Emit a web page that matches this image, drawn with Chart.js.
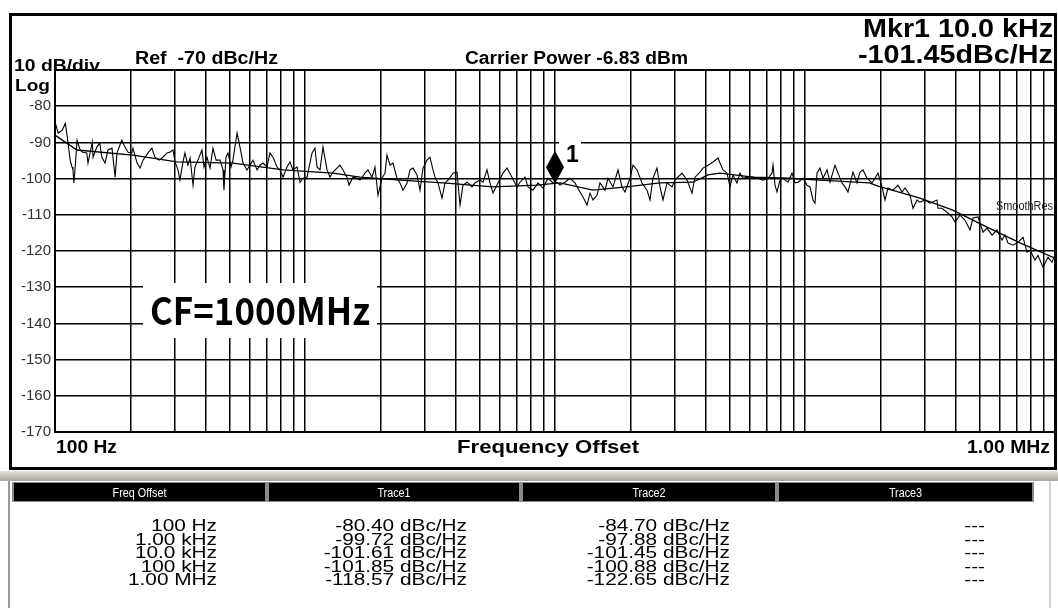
<!DOCTYPE html>
<html>
<head>
<meta charset="utf-8">
<script src="https://cdn.jsdelivr.net/npm/chart.js@4.4.1/dist/chart.umd.min.js"></script>
<style>
html,body{margin:0;padding:0;background:#fff;}
canvas{display:block;}
</style>
</head>
<body>
<canvas id="c" width="1058" height="608"></canvas>
<script>
// ---------------- DATA ----------------
const trace1Freq = [
  100,103,107,110,112,115,117,118,119,121,
  122.5,126,129,134,135.5,141,142,147,151,154,
  158.5,163,169,174,177,185,190.5,196,203,205,
  213,219,225,235.5,244,251,261,270,280.5,288,
  296.5,302,310.5,316,325,331,340,347,356.5,363,
  373,387,394.5,405.5,417,428.5,441,457,470,474,
  483,492,506,515,535,549.5,565,586,603,619,
  643,661,679,705,724,745,773,794,817,847,
  871,895,929,955,982,1019,1067,1096,1117,1148,
  1180,1225,1259,1294,1343,1380,1419,1472,1500,1556,
  1614,1660,1738,1786,1854,1905,1959,2032,2089,2128,
  2188,2249,2333,2399,2466,2559,2630,2704,2805,2884,
  2965,3076,3162,3251,3311,3404,3532,3631,3733,3908,
  4055,4169,4285,4446,4656,4786,5012,5152,5346,5495,
  5649,5916,6194,6427,6730,7047,7244,7586,7798,8166,
  8551,8954,9376,9817,10186,10471,10965,11482,12023,12589,
  12942,13428,13804,14191,14723,15136,15849,16293,17061,17865,
  18535,19055,19953,20512,21281,22284,23335,23988,24660,25586,
  26303,27040,28054,29376,30200,32211,33729,35318,36308,38019,
  39084,40926,42855,44875,45709,46989,48753,50119,51523,53456,
  54954,56494,59156,61944,64863,67920,71121,73790,74473,75858,
  77268,79433,81658,85507,88716,91201,93756,98175,101859,104713,
  107647,109648,111686,114815,118032,122462,125893,131826,135519,140605,
  144544,148594,155597,161436,165959,170608,177011,185353,190546,195884,
  203236,208930,214783,224905,235505,244343,251189,263027,270396,280543,
  288403,301995,316228,337287,340408,353183,369828,387258,398107,416869,
  436516,457088,469894,492040,515229,534564,559758,586138,613762,630957,
  648634,679204,711214,744732,772681,794328,831764,855067,895365,937562,
  972747,1000000
];
const trace1Level = [
  -84.4,-87.4,-86.6,-84.7,-88.5,-94.9,-96.8,-97.6,-101.2,-94.9,
  -89.4,-92.1,-92.7,-92.9,-95.7,-89.9,-94.1,-91.3,-90.2,-94.1,
  -95.7,-92.1,-91.6,-99.6,-92.9,-89.4,-91.3,-92.7,-92.9,-91.6,
  -95.7,-97.1,-94.9,-92.9,-91.6,-94.1,-94.9,-94.1,-92.9,-92.7,
  -92.1,-95.4,-97.6,-100.4,-95.4,-92.9,-96.3,-94.3,-101.8,-96.8,
  -94.9,-92.1,-96.8,-94.1,-97.1,-91.6,-94.9,-94.9,-97.6,-103.2,
  -94.1,-92.9,-96.8,-94.9,-87.4,-91.3,-95.7,-97.6,-96.3,-94.9,
  -97.6,-96.3,-95.7,-96.8,-92.9,-94.1,-96.8,-97.6,-99.6,-96.8,
  -95.4,-97.6,-96.8,-101.0,-99.9,-99.6,-92.9,-91.6,-96.8,-97.6,
  -91.3,-97.6,-99.6,-98.2,-97.1,-96.3,-97.6,-99.6,-101.8,-99.6,
  -99.9,-100.4,-98.5,-97.6,-99.6,-96.8,-104.6,-99.9,-98.5,-93.5,
  -96.3,-95.7,-99.9,-101.2,-103.2,-101.2,-97.6,-97.1,-99.0,-103.2,
  -97.1,-94.9,-94.1,-97.6,-99.6,-101.2,-105.4,-101.2,-100.4,-98.5,
  -98.2,-107.3,-101.8,-101.0,-102.3,-101.2,-100.4,-101.0,-97.6,-101.2,
  -104.0,-101.2,-98.5,-97.1,-99.6,-102.3,-101.0,-99.6,-102.3,-103.2,
  -101.2,-102.6,-99.9,-101.2,-101.0,-101.8,-101.0,-99.9,-101.2,-103.7,
  -105.1,-107.3,-104.0,-105.9,-104.6,-101.2,-103.2,-99.9,-102.3,-97.6,
  -102.3,-103.7,-99.9,-96.3,-97.6,-101.2,-103.2,-105.9,-99.9,-97.1,
  -102.3,-105.9,-101.2,-102.3,-100.4,-98.5,-100.4,-104.0,-99.6,-98.2,
  -97.1,-96.3,-95.4,-94.3,-95.7,-97.6,-98.5,-102.3,-99.0,-101.2,
  -98.5,-99.9,-99.6,-99.6,-99.9,-100.4,-99.9,-98.5,-96.3,-101.8,
  -103.7,-100.4,-99.9,-101.0,-98.5,-101.2,-101.0,-99.9,-101.8,-102.3,
  -105.9,-106.8,-98.5,-97.1,-99.9,-97.6,-101.0,-96.3,-98.5,-101.2,
  -102.3,-103.7,-98.2,-101.2,-98.2,-97.6,-99.9,-101.2,-99.9,-98.5,
  -102.3,-105.9,-102.6,-103.2,-101.8,-103.7,-102.6,-104.6,-108.2,-105.9,
  -106.5,-105.9,-106.8,-105.9,-108.2,-108.2,-109.3,-110.6,-112.0,-110.1,
  -111.5,-114.2,-110.9,-110.6,-114.8,-113.7,-115.6,-114.2,-117.0,-115.6,
  -117.8,-118.4,-117.6,-116.2,-120.3,-119.8,-122.5,-121.2,-124.5,-121.7,
  -123.1,-121.0
];
const trace2Freq = [100,122.5,205,307,515,817,1294,1660,2399,3560,5649,8470,10471,14191,19300,26303,35600,40926,45709,61944,87000,114815,181000,195884,288403,390000,534564,728000,1000000];
const trace2Level = [-88.0,-92.1,-93.5,-95.4,-95.7,-97.6,-98.5,-99.6,-100.4,-101.2,-102.3,-101.8,-101.2,-103.2,-102.3,-101.2,-101.0,-99.0,-98.5,-99.6,-99.9,-100.4,-101.2,-102.1,-105.4,-108.7,-113.4,-117.8,-122.0];

const yGridValues = [-70,-80,-90,-100,-110,-120,-130,-140,-150,-160,-170];
const decades = [100,1000,10000,100000];
const decadeMultipliers = [1,2,3,4,5,6,7,8,9];
const xMin = 100, xMax = 1000000, yMin = -170, yMax = -70;

const markerFreq = 10000;
const markerLevel = -101.45;

const tableHeaders = ['Freq Offset','Trace1','Trace2','Trace3'];
const tableFreq = ['100 Hz','1.00 kHz','10.0 kHz','100 kHz','1.00 MHz'];
const tableTrace1 = ['-80.40 dBc/Hz','-99.72 dBc/Hz','-101.61 dBc/Hz','-101.85 dBc/Hz','-118.57 dBc/Hz'];
const tableTrace2 = ['-84.70 dBc/Hz','-97.88 dBc/Hz','-101.45 dBc/Hz','-100.88 dBc/Hz','-122.65 dBc/Hz'];
const tableTrace3 = ['---','---','---','---','---'];

// ---------------- HELPERS ----------------
const FONT = "'Liberation Sans', Arial, sans-serif";
function drawText(ctx, text, x, y, o) {
  ctx.save();
  ctx.font = `${o.weight || 'normal'} ${o.size}px ${o.family || FONT}`;
  ctx.fillStyle = o.color || '#000';
  ctx.textBaseline = 'alphabetic';
  ctx.textAlign = 'left';
  const m = ctx.measureText(text).width;
  const s = o.width ? o.width / m : (o.scale || 1);
  const w = m * s;
  const a = o.align || 'left';
  const x0 = a === 'right' ? x - w : (a === 'center' ? x - w / 2 : x);
  ctx.translate(x0, y);
  ctx.scale(s, 1);
  ctx.fillText(text, 0, 0);
  ctx.restore();
}

const gridFreqs = [];
decades.forEach(d => decadeMultipliers.forEach(m => gridFreqs.push(d * m)));
gridFreqs.push(xMax);

// ---------------- PLUGIN ----------------
const decor = {
  id: 'decor',
  beforeDraw(chart) {
    const ctx = chart.ctx;
    ctx.save();
    ctx.fillStyle = '#fff';
    ctx.fillRect(0, 0, chart.width, chart.height);
    const g = ctx.createLinearGradient(0, 471, 0, 481);
    g.addColorStop(0, '#e6e3dc');
    g.addColorStop(1, '#a9a69d');
    ctx.fillStyle = g;
    ctx.fillRect(0, 471, 1058, 10);
    ctx.fillStyle = '#9a9a9a';
    ctx.fillRect(8, 481, 2, 127);
    ctx.fillStyle = '#d0d0d0';
    ctx.fillRect(1049, 481, 2, 127);
    const cells = [[13, 266], [268, 520], [522, 776], [778, 1033]];
    ctx.fillStyle = '#8a8a8a';
    ctx.fillRect(12, 482, 1022, 20);
    ctx.fillStyle = '#000';
    cells.forEach(c => ctx.fillRect(c[0] + 1, 483, c[1] - c[0] - 2, 18));
    cells.forEach((c, i) => drawText(ctx, tableHeaders[i], (c[0] + c[1]) / 2, 497,
      {size: 12, color: '#fff', align: 'center', scale: 0.9}));
    const baselines = [531, 544.5, 558, 571.5, 585];
    const rights = [217, 467, 730, 985];
    const cols = [tableFreq, tableTrace1, tableTrace2, tableTrace3];
    cols.forEach((col, ci) => col.forEach((t, ri) =>
      drawText(ctx, t, rights[ci], baselines[ri], {size: 16, align: 'right', scale: 1.3, color: '#000'})));
    ctx.restore();
  },
  afterDraw(chart) {
    const ctx = chart.ctx;
    const xs = chart.scales.x, ys = chart.scales.y;
    ctx.save();
    ctx.fillStyle = '#fff';
    ctx.fillRect(143, 283, 234, 55);
    drawText(ctx, 'CF=1000MHz', 150, 325, {size: 38, weight: 'bold', family: "'Noto Sans CJK SC', sans-serif", width: 220});
    const mx = xs.getPixelForValue(markerFreq);
    const my = ys.getPixelForValue(markerLevel);
    ctx.fillStyle = '#fff';
    ctx.fillRect(mx + 4, my - 44, 22, 24);
    ctx.fillStyle = '#000';
    ctx.beginPath();
    ctx.moveTo(mx, my - 33);
    ctx.lineTo(mx + 9, my - 16.5);
    ctx.lineTo(mx, my);
    ctx.lineTo(mx - 9, my - 16.5);
    ctx.closePath();
    ctx.fill();
    drawText(ctx, '1', mx + 11, my - 22, {size: 23, weight: 'bold'});
    drawText(ctx, 'SmoothRes', 996, 210, {size: 12, width: 57, color: '#222'});
    drawText(ctx, '10 dB/div', 14, 71, {size: 17, weight: 'bold', width: 86});
    drawText(ctx, 'Log', 15, 91, {size: 17, weight: 'bold', width: 35});
    drawText(ctx, 'Ref  -70 dBc/Hz', 135, 63.5, {size: 18, weight: 'bold', width: 143});
    drawText(ctx, 'Carrier Power -6.83 dBm', 465, 64, {size: 18, weight: 'bold', width: 223});
    drawText(ctx, 'Mkr1 10.0 kHz', 1053, 37, {size: 25, weight: 'bold', width: 190, align: 'right'});
    drawText(ctx, '-101.45dBc/Hz', 1053, 62.5, {size: 25, weight: 'bold', width: 195, align: 'right'});
    drawText(ctx, '100 Hz', 56, 453, {size: 18, weight: 'bold', width: 61});
    drawText(ctx, 'Frequency Offset', 548, 453, {size: 18, weight: 'bold', align: 'center', width: 182});
    drawText(ctx, '1.00 MHz', 1050, 453, {size: 18, weight: 'bold', width: 83, align: 'right'});
    ctx.strokeStyle = '#000';
    ctx.lineWidth = 3;
    ctx.strokeRect(10.5, 14.5, 1045, 454);
    ctx.restore();
  }
};

// ---------------- CHART ----------------
const t1 = trace1Freq.map((f, i) => ({x: f, y: trace1Level[i]}));
const t2 = trace2Freq.map((f, i) => ({x: f, y: trace2Level[i]}));

new Chart(document.getElementById('c'), {
  type: 'line',
  data: {
    datasets: [
      {label: 'Trace1', data: t1, borderColor: '#000', borderWidth: 1.1, pointRadius: 0, tension: 0, fill: false},
      {label: 'Trace2', data: t2, borderColor: '#000', borderWidth: 1.3, pointRadius: 0, tension: 0, fill: false}
    ]
  },
  options: {
    responsive: false,
    animation: false,
    devicePixelRatio: 1,
    parsing: false,
    normalized: true,
    layout: {padding: {left: 0, right: 3, top: 70, bottom: 176}},
    plugins: {legend: {display: false}, tooltip: {enabled: false}},
    scales: {
      x: {
        type: 'logarithmic', min: xMin, max: xMax,
        afterBuildTicks: s => { s.ticks = gridFreqs.map(v => ({value: v})); },
        afterFit: s => { s.height = 0; },
        ticks: {display: false, autoSkip: false},
        grid: {color: '#000', lineWidth: c => (c.tick && c.tick.value === xMax ? 2 : 1.5), drawTicks: false},
        border: {display: true, color: '#000', width: 2}
      },
      y: {
        type: 'linear', min: yMin, max: yMax,
        afterBuildTicks: s => { s.ticks = yGridValues.map(v => ({value: v})); },
        afterFit: s => { s.width = 55; },
        ticks: {padding: 4, color: '#333', autoSkip: false, font: {family: FONT, size: 15},
          callback: v => (v === yMax ? '' : String(v))},
        grid: {color: '#000', lineWidth: c => (c.tick && c.tick.value === yMax ? 2 : 1.5), drawTicks: false},
        border: {display: true, color: '#000', width: 2}
      }
    }
  },
  plugins: [decor]
});
</script>
</body>
</html>
